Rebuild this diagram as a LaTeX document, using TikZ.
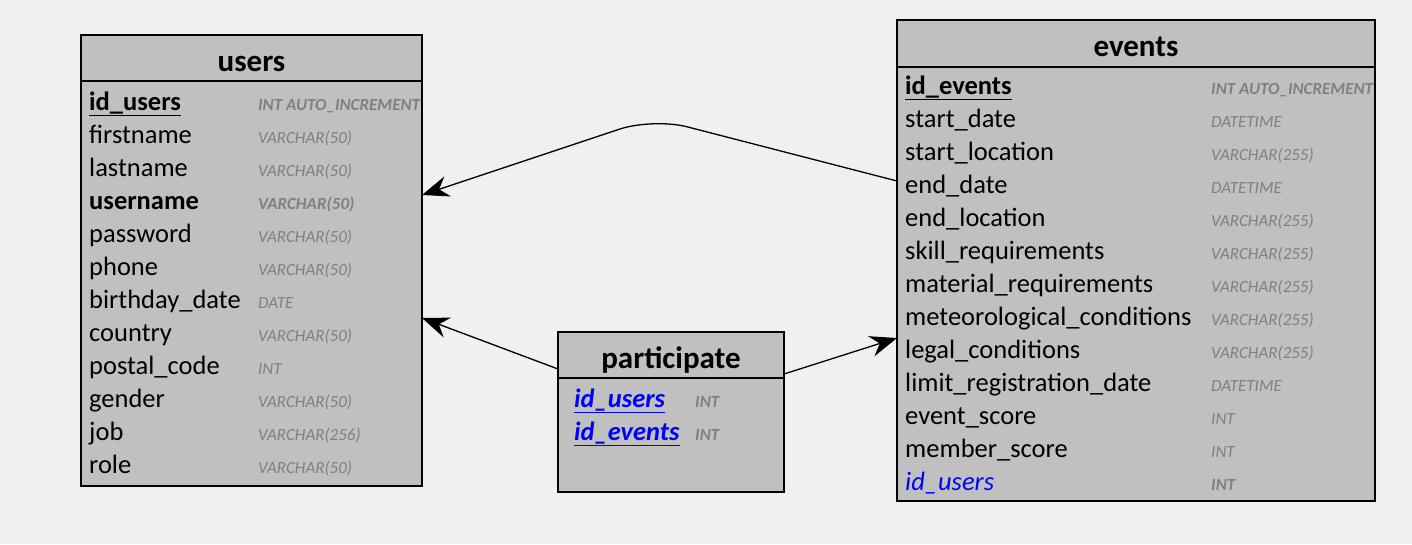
\documentclass[tikz,border=0pt]{standalone}
\usepackage{fontspec}
\setmainfont{Carlito}
\usepackage{tikz}
\usetikzlibrary{arrows.meta, positioning, calc}
\usepackage{xcolor}
\definecolor{bggray}{HTML}{F0F0F0}
\definecolor{tablegray}{HTML}{C0C0C0}
\definecolor{typegray}{HTML}{808080}
\definecolor{fkblue}{HTML}{0000FF}
\tikzset{
  % table frames
  tablebox/.style={
    rectangle, draw=black, line width=2pt,
    fill=tablegray, inner sep=0pt, outer sep=0pt
  },
  tablehead/.style={
    tablebox, anchor=north west,
    font=\fontsize{31pt}{34pt}\selectfont\bfseries,
    text height=30pt, text depth=4pt
  },
  % column names
  colname/.style={
    anchor=base west, inner sep=0pt, yshift=-1.5pt,
    font=\fontsize{26.5pt}{30pt}\selectfont
  },
  keyname/.style={
    colname, font=\fontsize{26.5pt}{30pt}\selectfont\bfseries
  },
  fkname/.style={
    colname, text=fkblue, font=\fontsize{26.5pt}{30pt}\selectfont\itshape
  },
  fkkeyname/.style={
    colname, text=fkblue, font=\fontsize{26.5pt}{30pt}\selectfont\bfseries\itshape
  },
  % column types
  coltype/.style={
    anchor=base west, inner sep=0pt, yshift=-1.5pt, text=typegray,
    font=\fontsize{17pt}{20pt}\selectfont\itshape
  },
  keytype/.style={
    coltype, font=\fontsize{17pt}{20pt}\selectfont\bfseries\itshape
  },
  fkarrow/.style={
    -{Stealth[length=27pt, width=21pt, inset=9pt]}, line width=1.3pt, draw=black
  }
}

\begin{document}
\begin{tikzpicture}[x=1pt, y=-1pt]

  \fill[bggray] (0,0) rectangle (1412,544);
  \useasboundingbox (0,0) rectangle (1412,544);

  % --- users ---
  \node[tablebox, minimum width=341pt, minimum height=451pt] (users) at (251.5,260.5) {};
  \node[tablehead, minimum width=341pt, minimum height=46pt] (users_head) at (users.north west) {users};

  \node[keyname] (u_id) at (89,109) {\underline{id\_users}};
  \node[keytype] (u_id_t) at (258,109) {INT AUTO\_INCREMENT};
  \node[colname] (u_first) at (89,142) {firstname};
  \node[coltype] (u_first_t) at (258,142) {VARCHAR(50)};
  \node[colname] (u_last) at (89,175) {lastname};
  \node[coltype] (u_last_t) at (258,175) {VARCHAR(50)};
  \node[keyname] (u_user) at (89,208) {username};
  \node[keytype] (u_user_t) at (258,208) {VARCHAR(50)};
  \node[colname] (u_pass) at (89,241) {password};
  \node[coltype] (u_pass_t) at (258,241) {VARCHAR(50)};
  \node[colname] (u_phone) at (89,274) {phone};
  \node[coltype] (u_phone_t) at (258,274) {VARCHAR(50)};
  \node[colname] (u_birth) at (89,307) {birthday\_date};
  \node[coltype] (u_birth_t) at (258,307) {DATE};
  \node[colname] (u_country) at (89,340) {country};
  \node[coltype] (u_country_t) at (258,340) {VARCHAR(50)};
  \node[colname] (u_postal) at (89,373) {postal\_code};
  \node[coltype] (u_postal_t) at (258,373) {INT};
  \node[colname] (u_gender) at (89,406) {gender};
  \node[coltype] (u_gender_t) at (258,406) {VARCHAR(50)};
  \node[colname] (u_job) at (89,439) {job};
  \node[coltype] (u_job_t) at (258,439) {VARCHAR(256)};
  \node[colname] (u_role) at (89,472) {role};
  \node[coltype] (u_role_t) at (258,472) {VARCHAR(50)};

  % --- events ---
  \node[tablebox, minimum width=478pt, minimum height=481pt] (events) at (1136,260.5) {};
  \node[tablehead, minimum width=478pt, minimum height=47pt] (events_head) at (events.north west) {events};

  \node[keyname] (e_id) at (905,93) {\underline{id\_events}};
  \node[keytype] (e_id_t) at (1211,93) {INT AUTO\_INCREMENT};
  \node[colname] (e_sdate) at (905,126) {start\_date};
  \node[coltype] (e_sdate_t) at (1211,126) {DATETIME};
  \node[colname] (e_sloc) at (905,159) {start\_location};
  \node[coltype] (e_sloc_t) at (1211,159) {VARCHAR(255)};
  \node[colname] (e_edate) at (905,192) {end\_date};
  \node[coltype] (e_edate_t) at (1211,192) {DATETIME};
  \node[colname] (e_eloc) at (905,225) {end\_location};
  \node[coltype] (e_eloc_t) at (1211,225) {VARCHAR(255)};
  \node[colname] (e_skill) at (905,258) {skill\_requirements};
  \node[coltype] (e_skill_t) at (1211,258) {VARCHAR(255)};
  \node[colname] (e_mat) at (905,291) {material\_requirements};
  \node[coltype] (e_mat_t) at (1211,291) {VARCHAR(255)};
  \node[colname] (e_meteo) at (905,324) {meteorological\_conditions};
  \node[coltype] (e_meteo_t) at (1211,324) {VARCHAR(255)};
  \node[colname] (e_legal) at (905,357) {legal\_conditions};
  \node[coltype] (e_legal_t) at (1211,357) {VARCHAR(255)};
  \node[colname] (e_limit) at (905,390) {limit\_registration\_date};
  \node[coltype] (e_limit_t) at (1211,390) {DATETIME};
  \node[colname] (e_escore) at (905,423) {event\_score};
  \node[coltype] (e_escore_t) at (1211,423) {INT};
  \node[colname] (e_mscore) at (905,456) {member\_score};
  \node[coltype] (e_mscore_t) at (1211,456) {INT};
  \node[fkname] (e_user) at (905,489) {id\_users};
  \node[keytype] (e_user_t) at (1211,489) {INT};

  % --- participate ---
  \node[tablebox, minimum width=226pt, minimum height=160pt] (participate) at (671,412) {};
  \node[tablehead, minimum width=226pt, minimum height=46pt] (participate_head) at (participate.north west) {participate};

  \node[fkkeyname] (p_user) at (574,406) {\underline{id\_users}};
  \node[keytype] (p_user_t) at (695,406) {INT};
  \node[fkkeyname] (p_event) at (574,439) {\underline{id\_events}};
  \node[keytype] (p_event_t) at (695,439) {INT};

  % --- links ---
  \coordinate (bend) at (653,118);
  \draw[fkarrow, rounded corners=35pt] ([yshift=79.5pt]events.west) -- (bend) -- ([yshift=65.5pt]users.east);
  \draw[fkarrow] ([yshift=43pt]participate.west) -- ([yshift=-57.5pt]users.east);
  \draw[fkarrow] ([yshift=38pt]participate.east) -- ([yshift=-77.5pt]events.west);

\end{tikzpicture}
\end{document}
